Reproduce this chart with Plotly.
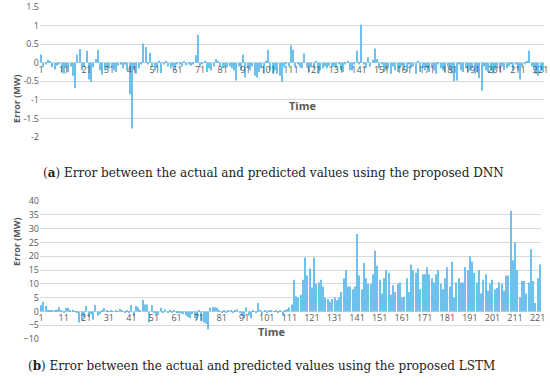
import plotly.graph_objects as go

time_idx = list(range(1, 223))
tick_vals = list(range(1, 222, 10))
tick_text = [str(v) for v in tick_vals]

dnn_error = [
    0.22, -0.12, -0.05, 0.08, 0.03, -0.12, -0.18, -0.08, -0.05, -0.25,
    -0.3, -0.1, -0.25, -0.1, -0.35, -0.68, 0.22, 0.37, -0.2, -0.1,
    0.32, -0.45, -0.52, -0.12, 0.1, 0.35, -0.2, -0.32, -0.2, -0.15,
    -0.15, -0.12, -0.2, -0.25, -0.08, -0.05, -0.15, -0.05, -0.2, -0.85,
    -1.77, -0.2, -0.3, -0.15, -0.05, 0.52, 0.42, -0.05, 0.27, -0.1,
    -0.2, -0.12, 0.05, -0.28, -0.05, 0.05, -0.1, -0.15, -0.1, -0.2,
    -0.05, -0.05, -0.1, 0.02, -0.07, -0.05, -0.08, -0.05, 0.2, 0.75,
    -0.1, -0.05, 0.05, -0.25, -0.15, -0.2, -0.1, 0.1, 0.05, -0.1,
    -0.15, -0.1, -0.12, -0.1, -0.15, -0.2, -0.48, -0.1, -0.2, 0.22,
    -0.4, -0.15, -0.2, -0.1, -0.35, -0.4, -0.25, -0.15, -0.3, 0.05,
    0.35, -0.2, -0.3, -0.2, -0.3, -0.35, -0.52, -0.1, -0.05, -0.1,
    0.47, 0.35, -0.1, -0.05, -0.12, -0.15, 0.25, -0.1, -0.25, -0.12,
    -0.15, 0.05, -0.3, -0.2, -0.15, -0.1, -0.15, -0.08, -0.12, -0.1,
    -0.15, -0.05, -0.2, -0.25, -0.05, 0.05, -0.2, -0.2, -0.05, 0.32,
    -0.05, 1.02, -0.05, -0.15, 0.15, -0.1, 0.08, 0.38, 0.1, -0.15,
    -0.05, -0.25, -0.2, -0.15, -0.3, -0.1, -0.2, -0.25, -0.15, -0.1,
    -0.2, -0.25, -0.05, -0.15, -0.1, -0.3, 0.05, -0.25, -0.15, -0.2,
    -0.15, -0.25, -0.1, -0.2, -0.3, -0.05, -0.15, -0.2, -0.25, -0.1,
    -0.2, -0.3, -0.5, -0.48, -0.05, -0.2, -0.25, -0.15, -0.25, -0.2,
    -0.15, -0.3, -0.25, -0.42, -0.75, -0.1, -0.2, -0.25, -0.2, -0.3,
    -0.2, -0.15, -0.25, -0.1, -0.2, -0.15, -0.1, -0.05, -0.2, -0.05,
    -0.2, -0.45, -0.1, -0.05, 0.05, 0.33, -0.1, -0.2, -0.3, -0.35,
    -0.2, -0.25,
]

lstm_error = [
    2.2, 3.5, 2, 0.4, 0.3, 0.5, 0.4, 0.6, 1.5, 0.3,
    -0.3, 1.2, 1.3, 0.3, 0.6, -0.2, -0.6, -4, -3, -2,
    2, -2, -1, -3, 2.3, -1.5, -1, 0.5, 1.2, 0.2,
    0.1, 0.2, 0.1, 0.2, 0.1, 1, 0.2, -0.3, 0.2, -0.5,
    2.3, -1.5, 2, 1.5, 0.5, 4.2, 2.5, 2.5, -4, 2.2,
    -0.5, -1, -1.2, 1.2, -0.5, 0.8, -0.5, 0.6, -0.3, 0.2,
    -0.3, -0.5, -0.8, -1, -1.5, -2, -2.5, -1, -2.5, -3,
    0.5, -3.5, -4, -4.5, -6.5, 1.3, 1.5, 1.5, 1.3, 0.3,
    -0.3, 0.2, -0.4, 0.3, 0.5, -0.3, 0.2, 0.8, -0.5, -1.8,
    -2.5, 1.5, -1.5, -2.5, 0.3, -0.5, 3, 0.2, -1, 0.3,
    -0.3, 0.4, 0.2, -0.2, 0.5, -0.3, 0.5, -1.5, 0.3, 0.8,
    1.5, 2.5, 11.5, 5.5, 5, 6, 11.5, 19.5, 13, 15.5,
    8.7, 19.5, 10, 10.5, 11.5, 9, 5, 4.5, 3.5, 4.5,
    5, 4, 5, 7, 12, 15, 9, 9, 8, 9,
    28, 13, 8, 17.5, 12, 10, 10, 13.5, 22, 16.5,
    11.5, 6.5, 12, 15, 14, 6, 9.5, 7, 10, 10.5,
    5, 5.3, 12, 7, 17, 15, 14, 15.5, 8, 13.5,
    13.5, 16, 13.5, 12, 10.5, 13.5, 15, 10, 8, 12,
    16, 9, 18, 5, 10.5, 12, 10.5, 10.5, 16, 15,
    20, 18, 14, 10.5, 15, 6.5, 11.5, 13.5, 7.5, 10,
    11.5, 8, 8.5, 10.5, 10, 7.5, 13, 13, 36.5, 18.5,
    25, 15, 5, 11, 11, 6.5, 10.5, 22.5, 11, 3,
    12, 17,
]

dnn_ticks = [1.5, 1, 0.5, 0, -0.5, -1, -1.5, -2]
dnn_ticktext = ["1.5", "1", "0.5", "0", "-0.5", "-1", "-1.5", "-2"]
lstm_ticks = [40, 35, 30, 25, 20, 15, 10, 5, 0, -5, -10]

W, H = 550, 387
def py(px):
    return 1 - px / H

top_dom = [py(137), py(7)]
bot_dom = [py(339), py(201)]
top_rng = [-2, 1.5]
bot_rng = [-10, 40]

def zero_pos(dom, rng):
    return dom[0] + (0 - rng[0]) / (rng[1] - rng[0]) * (dom[1] - dom[0])

bar_color = "#6EC1EC"
gray = "#595959"
tickfont = dict(family="Open Sans", size=9, color=gray)

fig = go.Figure()
fig.add_trace(go.Bar(x=time_idx, y=dnn_error, marker=dict(color=bar_color, line=dict(width=0)),
                     xaxis="x", yaxis="y"))
fig.add_trace(go.Bar(x=time_idx, y=lstm_error, marker=dict(color=bar_color, line=dict(width=0)),
                     xaxis="x2", yaxis="y2"))

fig.update_layout(
    width=W, height=H,
    margin=dict(l=0, r=0, t=0, b=0, autoexpand=False),
    paper_bgcolor="white", plot_bgcolor="white",
    showlegend=False, bargap=0.55,
    xaxis=dict(domain=[40 / W, 544 / W], range=[0.5, 222.5], anchor="free",
               position=zero_pos(top_dom, top_rng), tickmode="array",
               tickvals=tick_vals, ticktext=tick_text, tickfont=tickfont,
               showgrid=False, showline=False, zeroline=False, ticks="",
               automargin=False),
    yaxis=dict(domain=top_dom, range=top_rng, anchor="x", tickmode="array",
               tickvals=dnn_ticks, ticktext=dnn_ticktext, tickfont=tickfont,
               showgrid=True, gridcolor="#D9D9D9", gridwidth=1, zeroline=False,
               showline=False, ticks="", automargin=False),
    xaxis2=dict(domain=[40 / W, 541 / W], range=[0.5, 222.5], anchor="free",
                position=zero_pos(bot_dom, bot_rng), tickmode="array",
                tickvals=tick_vals, ticktext=tick_text, tickfont=tickfont,
                showgrid=False, showline=False, zeroline=False, ticks="",
                automargin=False),
    yaxis2=dict(domain=bot_dom, range=bot_rng, anchor="x2", tickmode="array",
                tickvals=lstm_ticks, tickfont=tickfont,
                showgrid=True, gridcolor="#D9D9D9", gridwidth=1, zeroline=False,
                showline=False, ticks="", automargin=False),
)

ann_font = dict(family="Open Sans", size=11, color=gray)
ytitle_font = dict(family="Open Sans", size=9, color=gray)
cap_font = dict(family="DejaVu Serif", size=12, color="#222222")
fig.add_annotation(x=303 / W, y=py(96), xref="paper", yref="paper", text="<b>Time</b>",
                   showarrow=False, font=ann_font)
fig.add_annotation(x=272 / W, y=py(341), xref="paper", yref="paper", text="<b>Time</b>",
                   showarrow=False, font=ann_font)
fig.add_annotation(x=8 / W, y=py(72), xref="paper", yref="paper", text="<b>Error (MW)</b>",
                   textangle=-90, showarrow=False, font=ytitle_font)
fig.add_annotation(x=8 / W, y=py(268), xref="paper", yref="paper", text="<b>Error (MW)</b>",
                   textangle=-90, showarrow=False, font=ytitle_font)
fig.add_annotation(x=273 / W, y=py(173), xref="paper", yref="paper",
                   text="(<b>a</b>) Error between the actual and predicted values using the proposed DNN",
                   showarrow=False, font=cap_font)
fig.add_annotation(x=261 / W, y=py(375), xref="paper", yref="paper",
                   text="(<b>b</b>) Error between the actual and predicted values using the proposed LSTM",
                   showarrow=False, font=cap_font)

fig.write_html("out.html", config={"displayModeBar": False},
               post_script="document.body.style.margin='0';document.body.style.overflow='hidden';")
